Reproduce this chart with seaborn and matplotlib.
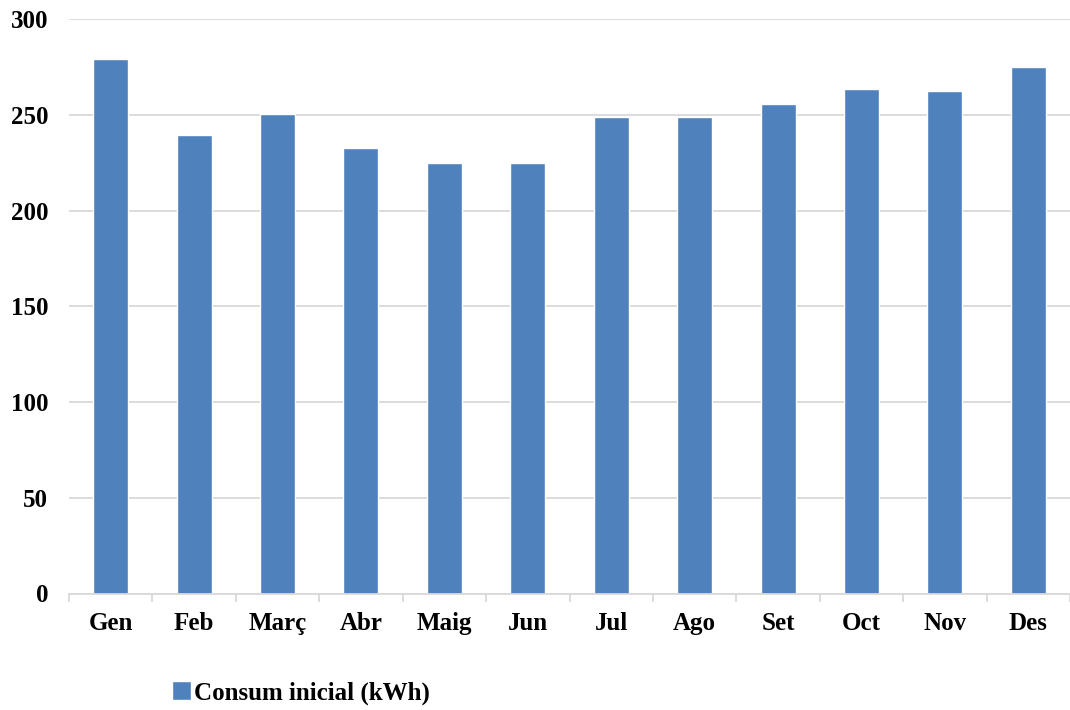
import matplotlib
matplotlib.use("Agg")
import matplotlib.pyplot as plt
import seaborn as sns
import pandas as pd
from matplotlib.ticker import MultipleLocator, FixedLocator

# Monthly consumption (kWh)
months = ["Gen", "Feb", "Març", "Abr", "Maig", "Jun", "Jul", "Ago", "Set", "Oct", "Nov", "Des"]
consum = [279, 239.5, 250.5, 233, 224.7, 224.9, 249.2, 249.2, 255.9, 263.4, 262.5, 275]
series_label = "Consum inicial (kWh)"

sns.set_theme(style="white")
plt.rcParams["font.family"] = ["Liberation Serif", "DejaVu Serif"]
plt.rcParams["font.weight"] = "bold"
plt.rcParams["text.color"] = "black"
plt.rcParams["xtick.color"] = "black"
plt.rcParams["ytick.color"] = "black"

FS = 18

df = pd.DataFrame({"mes": months, "consum": consum})

fig = plt.figure(figsize=(10.7, 7.1), dpi=100)
ax = fig.add_axes([69 / 1070, 1 - 593.5 / 710, 1 - 69 / 1070, (593.5 - 19.3) / 710])

sns.barplot(data=df, x="mes", y="consum", color="#4F81BD", saturation=1,
            width=0.42, ax=ax, label=series_label)

ax.set_ylim(0, 300)
ax.set_xlim(-0.5, 11.5)
ax.yaxis.set_major_locator(MultipleLocator(50))
ax.yaxis.grid(True, color="#D9D9D9", linewidth=1.3)
ax.set_axisbelow(True)
ax.set_xlabel("")
ax.set_ylabel("")

for s in ["top", "right", "left"]:
    ax.spines[s].set_visible(False)
ax.spines["bottom"].set_color("#D9D9D9")
ax.spines["bottom"].set_linewidth(1.3)

# Tick marks at category boundaries, labels at category centres
ax.xaxis.set_minor_locator(FixedLocator([i - 0.5 for i in range(len(months) + 1)]))
ax.tick_params(axis="x", which="minor", length=6, width=1.3, color="#D9D9D9", bottom=True)
ax.tick_params(axis="x", which="major", length=0, pad=13, labelsize=FS, labelcolor="black")
ax.tick_params(axis="y", length=0, pad=15, labelsize=FS, labelcolor="black")
for lbl in ax.get_xticklabels() + ax.get_yticklabels():
    lbl.set_fontweight("bold")

if ax.get_legend():
    ax.get_legend().remove()
handles, labels = ax.get_legend_handles_labels()
fig.legend(handles, labels, loc="center", bbox_to_anchor=(301 / 1070, 1 - 693 / 710),
           frameon=False, handlelength=0.75, handleheight=0.75,
           handletextpad=0.15, prop={"weight": "bold", "size": FS})

fig.savefig("out.png", dpi=100)
